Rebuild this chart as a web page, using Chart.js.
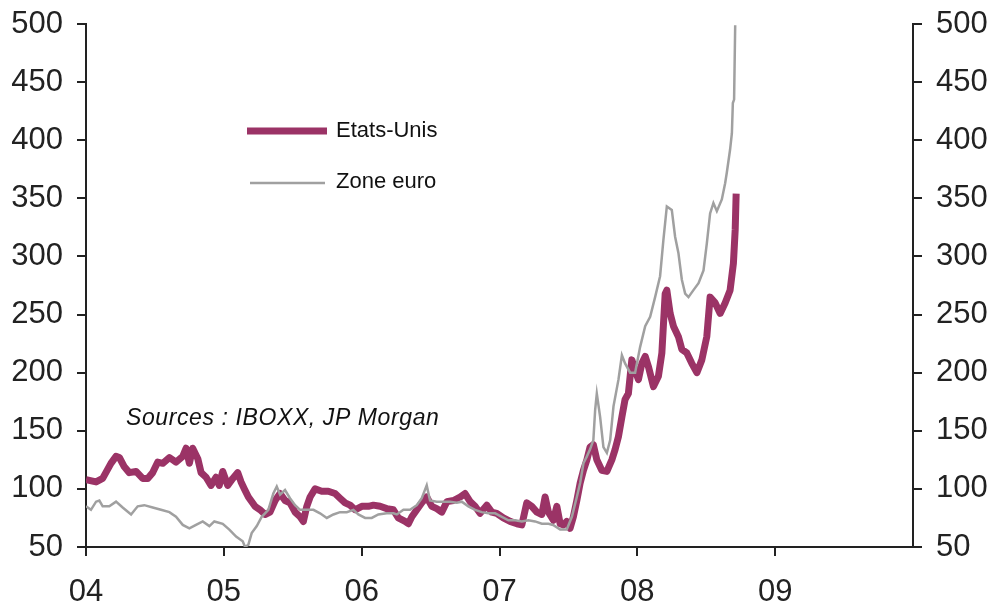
<!DOCTYPE html>
<html>
<head>
<meta charset="utf-8">
<script src="https://cdn.jsdelivr.net/npm/chart.js@4.4.1/dist/chart.umd.min.js"></script>
<style>
    html, body { margin: 0; padding: 0; background: #fff; }
    canvas { display: block; }
</style>
</head>
<body>
<canvas id="chart" width="994" height="609"></canvas>
<script>
// --- Dati (anni decimali) ---
const usDates = [
    2004.000, 2004.073, 2004.121, 2004.181, 2004.218, 2004.242, 2004.278, 2004.314, 2004.363, 2004.411,
    2004.448, 2004.484, 2004.520, 2004.557, 2004.605, 2004.653, 2004.702, 2004.726, 2004.750, 2004.774,
    2004.811, 2004.835, 2004.871, 2004.907, 2004.943, 2004.967, 2004.992, 2005.028, 2005.065, 2005.101,
    2005.125, 2005.149, 2005.178, 2005.226, 2005.263, 2005.299, 2005.335, 2005.372, 2005.408, 2005.444,
    2005.480, 2005.517, 2005.553, 2005.577, 2005.602, 2005.626, 2005.662, 2005.710, 2005.758, 2005.807,
    2005.843, 2005.880, 2005.916, 2005.952, 2006.001, 2006.049, 2006.085, 2006.134, 2006.182, 2006.230,
    2006.266, 2006.315, 2006.339, 2006.364, 2006.400, 2006.436, 2006.472, 2006.509, 2006.545, 2006.581,
    2006.618, 2006.666, 2006.714, 2006.750, 2006.787, 2006.823, 2006.859, 2006.908, 2006.944, 2006.980,
    2007.028, 2007.077, 2007.126, 2007.162, 2007.198, 2007.234, 2007.271, 2007.307, 2007.331, 2007.355,
    2007.391, 2007.416, 2007.440, 2007.464, 2007.488, 2007.512, 2007.536, 2007.561, 2007.585, 2007.609,
    2007.634, 2007.657, 2007.681, 2007.706, 2007.742, 2007.779, 2007.815, 2007.839, 2007.863, 2007.888,
    2007.911, 2007.935, 2007.960, 2007.984, 2008.008, 2008.033, 2008.057, 2008.081, 2008.117, 2008.153,
    2008.178, 2008.202, 2008.214, 2008.238, 2008.262, 2008.298, 2008.323, 2008.359, 2008.395, 2008.432,
    2008.468, 2008.504, 2008.528, 2008.565, 2008.601, 2008.637, 2008.673, 2008.697, 2008.710, 2008.717
];
const usValues = [
    108, 106, 109, 122, 128, 127, 119, 114, 115, 109,
    109, 114, 123, 122, 127, 123, 128, 135, 122, 135,
    126, 114, 110, 103, 110, 103, 115, 103, 109, 114,
    106, 100, 93, 85, 82, 78, 80, 90, 96, 90,
    88, 80, 76, 72, 85, 93, 100, 98, 98, 96,
    92, 88, 86, 82, 85, 85, 86, 85, 83, 82,
    75, 72, 70, 76, 82, 88, 93, 85, 83, 80,
    89, 90, 93, 96, 89, 85, 79, 86, 80, 79,
    75, 72, 70, 69, 88, 85, 80, 78, 93, 80,
    73, 85, 70, 69, 72, 66, 76, 90, 105, 116,
    125, 136, 138, 125, 116, 115, 125, 134, 145, 162,
    177, 182, 211, 202, 194, 208, 214, 205, 188, 197,
    217, 268, 271, 251, 240, 231, 220, 217, 208, 200,
    211, 231, 265, 260, 251, 260, 271, 294, 323, 354
];
const euroDates = [
    2004.000, 2004.036, 2004.073, 2004.097, 2004.121, 2004.169, 2004.218, 2004.266, 2004.327, 2004.375,
    2004.423, 2004.484, 2004.544, 2004.605, 2004.653, 2004.702, 2004.750, 2004.798, 2004.847, 2004.895,
    2004.931, 2004.992, 2005.040, 2005.089, 2005.137, 2005.154, 2005.178, 2005.202, 2005.239, 2005.275,
    2005.323, 2005.359, 2005.384, 2005.408, 2005.444, 2005.480, 2005.517, 2005.553, 2005.602, 2005.650,
    2005.698, 2005.747, 2005.795, 2005.843, 2005.892, 2005.940, 2005.976, 2006.025, 2006.073, 2006.121,
    2006.182, 2006.230, 2006.255, 2006.303, 2006.351, 2006.400, 2006.436, 2006.472, 2006.496, 2006.545,
    2006.593, 2006.641, 2006.690, 2006.726, 2006.774, 2006.823, 2006.871, 2006.919, 2006.968, 2007.017,
    2007.065, 2007.113, 2007.162, 2007.210, 2007.258, 2007.307, 2007.355, 2007.389, 2007.440, 2007.488,
    2007.525, 2007.561, 2007.585, 2007.609, 2007.634, 2007.657, 2007.681, 2007.694, 2007.706, 2007.730,
    2007.754, 2007.779, 2007.803, 2007.827, 2007.863, 2007.888, 2007.911, 2007.948, 2007.984, 2008.020,
    2008.057, 2008.093, 2008.129, 2008.165, 2008.189, 2008.214, 2008.250, 2008.274, 2008.298, 2008.323,
    2008.347, 2008.371, 2008.407, 2008.444, 2008.480, 2008.504, 2008.528, 2008.552, 2008.577, 2008.613,
    2008.637, 2008.649, 2008.673, 2008.686, 2008.693, 2008.702, 2008.710
];
const euroValues = [
    85, 82, 89, 90, 85, 85, 89, 84, 78, 85,
    86, 84, 82, 80, 76, 69, 66, 69, 72, 68,
    72, 70, 65, 59, 55, 50, 52, 62, 68, 76,
    82, 96, 102, 95, 99, 92, 86, 82, 82, 82,
    79, 75, 78, 80, 80, 82, 78, 75, 75, 78,
    79, 79, 78, 82, 82, 86, 92, 103, 90, 89,
    89, 89, 88, 89, 85, 82, 80, 79, 79, 76,
    73, 73, 72, 73, 72, 70, 70, 69, 65, 65,
    76, 93, 105, 122, 128, 134, 142, 168, 182, 162,
    136, 131, 142, 171, 194, 215, 208, 200, 200, 222,
    240, 248, 265, 283, 314, 343, 340, 317, 303, 280,
    268, 265, 271, 277, 288, 311, 337, 346, 339, 349,
    363, 372, 392, 406, 432, 435, 499
];
const yearTicks = [2004, 2005, 2006, 2007, 2008, 2009, 2010];
const seriesNames = ['Etats-Unis', 'Zone euro'];
const sourceNote = 'Sources : IBOXX, JP Morgan';

const US_COLOR = '#9b3366';
const EURO_COLOR = '#a0a0a0';
const AXIS_COLOR = '#222';
const FONT = "'Liberation Sans', Arial, sans-serif";

Chart.defaults.font.family = FONT;
Chart.defaults.color = '#222';

const toPoints = (xs, ys) => xs.map((x, i) => ({ x: x, y: ys[i] }));

// legenda e nota fonti disegnate dentro l'area del grafico
const annotations = {
    id: 'annotations',
    afterDraw(chart) {
        const ctx = chart.ctx;
        ctx.save();
        ctx.lineCap = 'butt';
        // Etats-Unis
        ctx.strokeStyle = US_COLOR;
        ctx.lineWidth = 7;
        ctx.beginPath();
        ctx.moveTo(247, 131);
        ctx.lineTo(327, 131);
        ctx.stroke();
        // Zone euro
        ctx.strokeStyle = EURO_COLOR;
        ctx.lineWidth = 2.5;
        ctx.beginPath();
        ctx.moveTo(250, 183);
        ctx.lineTo(325, 183);
        ctx.stroke();

        ctx.fillStyle = '#111';
        ctx.textBaseline = 'middle';
        ctx.textAlign = 'left';
        ctx.font = '22px ' + FONT;
        ctx.fillText(seriesNames[0], 336, 131);
        ctx.fillText(seriesNames[1], 336, 182);

        ctx.font = 'italic 23px ' + FONT;
        ctx.letterSpacing = '0.6px';
        ctx.fillText(sourceNote, 126, 419);
        ctx.restore();
    }
};

const yAxis = (position, width) => ({
    type: 'linear',
    position: position,
    min: 50,
    max: 500,
    afterFit: (scale) => {
        scale.width = width;
        // niente padding extra: l'area del grafico parte da layout.padding.top
        scale.paddingTop = 0;
        scale.paddingBottom = 0;
    },
    afterBuildTicks: (scale) => {
        scale.ticks = [50, 100, 150, 200, 250, 300, 350, 400, 450, 500].map(v => ({ value: v }));
    },
    border: { display: true, color: AXIS_COLOR, width: 2 },
    grid: {
        drawOnChartArea: false,
        drawTicks: true,
        tickLength: 9,
        color: AXIS_COLOR,
        lineWidth: 2
    },
    ticks: {
        padding: 14,
        color: '#222',
        font: { size: 31 }
    }
});

new Chart(document.getElementById('chart').getContext('2d'), {
    type: 'line',
    data: {
        datasets: [
            {
                label: seriesNames[0],
                data: toPoints(usDates, usValues),
                borderColor: US_COLOR,
                borderWidth: 7,
                pointRadius: 0,
                tension: 0,
                borderJoinStyle: 'round',
                order: 1
            },
            {
                label: seriesNames[1],
                data: toPoints(euroDates, euroValues),
                borderColor: EURO_COLOR,
                borderWidth: 2.5,
                pointRadius: 0,
                tension: 0,
                order: 0
            }
        ]
    },
    options: {
        responsive: false,
        animation: false,
        layout: { padding: { top: 24, left: 0, right: 0, bottom: 0 } },
        plugins: {
            legend: { display: false },
            tooltip: { enabled: false }
        },
        scales: {
            x: {
                type: 'linear',
                min: 2004,
                max: 2010,
                afterFit: (scale) => {
                    scale.height = 62;
                    scale.paddingLeft = 0;
                    scale.paddingRight = 0;
                },
                afterBuildTicks: (scale) => {
                    scale.ticks = yearTicks.map(v => ({ value: v }));
                },
                border: { display: true, color: AXIS_COLOR, width: 2 },
                grid: {
                    drawOnChartArea: false,
                    drawTicks: true,
                    tickLength: 9,
                    lineWidth: 2,
                    color: (c) => (c.tick && c.tick.value === 2010) ? 'rgba(0,0,0,0)' : AXIS_COLOR
                },
                ticks: {
                    padding: 18,
                    color: '#222',
                    font: { size: 31 },
                    maxRotation: 0,
                    callback: (v) => v === 2010 ? '' : String(v).slice(2)
                }
            },
            y: yAxis('left', 86),
            y1: yAxis('right', 81)
        }
    },
    plugins: [annotations]
});
</script>
</body>
</html>
